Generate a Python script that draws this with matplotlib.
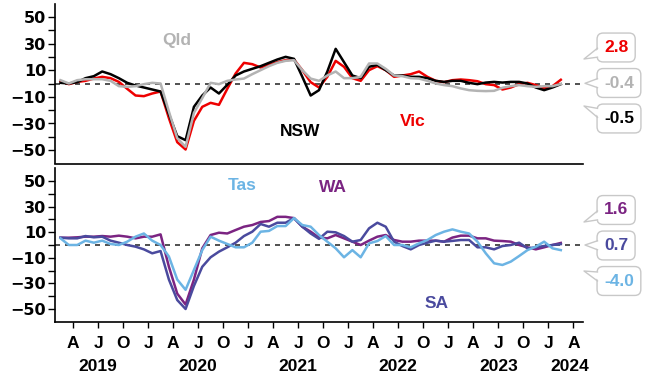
import matplotlib.pyplot as plt
import numpy as np
from matplotlib.patches import Polygon
from matplotlib.lines import Line2D

plt.rcParams['font.family'] = ['Liberation Sans', 'DejaVu Sans']
plt.rcParams['font.weight'] = 'bold'

W, H = 649, 376

# monthly values, Feb 2019 to Feb 2024
nsw = [0.5, 0, 1, 4, 5.5, 9, 7, 4, 0.5, -1.5, -3, -4.5, -6, -23, -39.5, -42.5,
       -17.5, -9, -3, -7.5, -1, 6, 9, 11, 13, 15.5, 18, 20, 18.5, 5, -9, -5,
       9, 26, 16, 6, 4, 12.5, 14, 10, 6, 6, 5, 5, 4, 2, 1.2,
       2, 2, 0.5, -0.5, 0.7, 1.2, 0.7, 1.2, 1.2, 0, -3, -5, -3, -0.5]
vic = [1.7, -0.5, 1.2, 2, 3.7, 5, 4, 1.2, -4, -9, -9.5, -7.5, -6, -26, -44, -49.5,
       -28, -17.5, -14.5, -16, -4, 7.5, 15.5, 14.5, 12, 14, 16, 17.5, 18, 10, 1, -3,
       5, 17, 12.5, 4, 2, 10, 13, 10, 5, 6, 7, 9, 5, 2, 1,
       2.5, 3, 2.5, 1.7, -0.5, -1.2, -4.5, -3, -0.5, 0.5, -1.2, -3.7, -2, 2.8]
qld = [2.5, 0, 2.5, 3.2, 3.2, 3.2, 2, -2, -2.5, -2, -0.5, 0.5, 0, -21, -41, -47.5,
       -22, -11, 0.5, -0.5, 2, 3, 3.7, 7, 10, 13, 15.5, 17, 17.5, 10, 3.7, 2,
       6, 9, 4, 4, 5, 15, 15, 11, 6, 5.5, 4, 3.7, 2, 0, -1.2,
       -2, -3.7, -5, -5.5, -5.7, -5.5, -3.2, -2, -1.2, -2, -2.5, -2, -2, -0.4]

wa = [5.7, 5.7, 6, 6.5, 6.5, 7, 6.5, 7.3, 6.5, 5.2, 6.5, 6.5, 8.3, -17, -38, -46.5,
      -27, -2.6, 7.8, 9.6, 9, 11.7, 14.3, 15.6, 18, 18.7, 22, 22, 21, 14.3, 10.4, 5.8,
      5.2, 7.8, 5.2, 2.6, 0, 3.4, 6.5, 7.8, 3.9, 2.6, 2.6, 3.4, 3.4, 3.4, 2.6,
      5.8, 7.3, 7.3, 5.2, 5.2, 3.4, 3.1, 2.6, 0, -1.8, -3.4, -1.8, 0, 1.6]
sa = [5.7, 5.2, 5.2, 7, 6, 6.5, 3.4, 1.8, 0, -1.3, -3.4, -6.5, -4.7, -27, -43, -50,
      -32, -17, -9.6, -5.2, -1.8, 1.8, 7, 10.4, 16.4, 14.3, 17.4, 17.4, 21, 14.3, 9, 4.8,
      10.4, 9.9, 7, 2.6, 3.9, 13, 17.4, 14.3, 2.6, -0.8, -3.4, 0, 1.8, 3.4, 2.6,
      3.2, 3.9, 3.9, -1.8, -1.8, -3.4, -0.8, 0, 1.8, -2.6, -1.8, -0.8, 0, 0.7]
tas = [5.2, 0, 0, 3.4, 1.8, 3.4, 0.8, 0, 2.6, 6.5, 9, 3.4, 0, -9, -27, -35,
       -19.5, -4, 6.5, 3.4, 0.8, -1.8, -1.8, 1.8, 10.4, 11, 14.8, 14.8, 21, 15.6, 14.3, 7.8,
       2.6, -2.6, -9.6, -4, -9.6, 1.3, 3.1, 7, 0, 0, -1.8, 1.3, 3.9, 7.8, 10.4,
       12.2, 10.4, 9, 2.6, -6.5, -14.3, -15.6, -13, -8.6, -4, -1.3, 2.6, -2.6, -4.0]

quarter_ticks = [3, 6, 9, 12, 15, 18, 21, 24, 27, 30, 33, 36, 39, 42, 45, 48, 51, 54, 57, 60, 63]
quarter_labels = ['A', 'J', 'O', 'J'] * 5 + ['A']
year_ticks = [12, 24, 36, 48, 60]
years = ['2019', '2020', '2021', '2022', '2023', '2024']
year_pos = [6, 18, 30, 42, 54, 62.6]

x = np.arange(len(nsw)) + 1.5

black, red, grey = '#000000', '#ee0000', '#b3b3b3'
purple, navy, sky = '#7b2482', '#4a4a9e', '#6cb4e4'
edge = '#c8c8c8'

fig = plt.figure(figsize=(W / 100, H / 100), dpi=100)
ax1 = fig.add_axes([55 / W, 1 - 163.5 / H, 528 / W, 160 / H])
ax2 = fig.add_axes([55 / W, 1 - 321.8 / H, 528 / W, 153.6 / H])

for ax in (ax1, ax2):
    ax.set_xlim(0.84, 64.16)
    ax.set_ylim(-60, 60)
    for s in ('top', 'right'):
        ax.spines[s].set_visible(False)
    for s in ('left', 'bottom'):
        ax.spines[s].set_linewidth(1.2)
    ax.set_yticks([-50, -30, -10, 10, 30, 50])
    ax.set_yticks([-40, -20, 0, 20, 40], minor=True)
    ax.tick_params(axis='y', which='both', length=5, width=1, pad=1.5)
    for lab in ax.get_yticklabels():
        lab.set_fontfamily('DejaVu Sans')
        lab.set_fontsize(11.5)
    ax.axhline(0, color='#333333', ls=(0, (3, 3)), lw=1.2, zorder=1)

ax1.set_xticks([])

ax1.plot(x, vic, color=red, lw=1.8)
ax1.plot(x, nsw, color=black, lw=1.8)
ax1.plot(x, qld, color=grey, lw=1.8)

ax2.plot(x, wa, color=purple, lw=1.8)
ax2.plot(x, sa, color=navy, lw=1.8)
ax2.plot(x, tas, color=sky, lw=1.8)

ax2.set_xticks(quarter_ticks)
ax2.set_xticklabels(quarter_labels)
ax2.set_xticks(year_ticks, minor=True)
ax2.tick_params(axis='x', which='major', length=4, width=1, pad=6, labelsize=12.5)
ax2.tick_params(axis='x', which='minor', length=8, width=1)
for yr, p in zip(years, year_pos):
    ax2.text(p, -0.29, yr, transform=ax2.get_xaxis_transform(), ha='center', va='center', fontsize=12.5)

# series names
names = [('Qld', grey, 177, 41), ('NSW', black, 300, 132), ('Vic', red, 413, 121),
         ('Tas', sky, 242, 185), ('WA', purple, 333, 187), ('SA', navy, 437, 303)]
for t, c, px, py in names:
    fig.text(px / W, 1 - py / H, t, color=c, fontsize=12.5, ha='center', va='center')


def fp(px, py):
    return (px / W, 1 - py / H)


# latest value callouts: text, colour, box centre y, pointer tip
callouts = [('2.8', red, 47.5, 584, 59), ('-0.4', grey, 83, 585, 83.3), ('-0.5', black, 118.5, 584, 106),
            ('1.6', purple, 210, 584, 222), ('0.7', navy, 245.5, 585, 245), ('-4.0', sky, 281, 584, 271)]
for t, c, ty, px, py in callouts:
    fig.text(604 / W, 1 - ty / H, t, ha='left', va='center', color=c, fontsize=12.5, zorder=3,
             bbox=dict(boxstyle='round,pad=0.4,rounding_size=0.35', fc='white', ec=edge, lw=1))
    bc = ty + 0.45 * (py - ty)
    fig.add_artist(Polygon([fp(600, bc - 4.5), fp(px, py), fp(600, bc + 4.5)], closed=True,
                           transform=fig.transFigure, fc='white', ec='none', zorder=4))
    xs, ys = zip(fp(597.5, bc - 4.5), fp(px, py), fp(597.5, bc + 4.5))
    fig.add_artist(Line2D(xs, ys, transform=fig.transFigure, color=edge, lw=1, zorder=5))

fig.savefig('out.png', dpi=100)
